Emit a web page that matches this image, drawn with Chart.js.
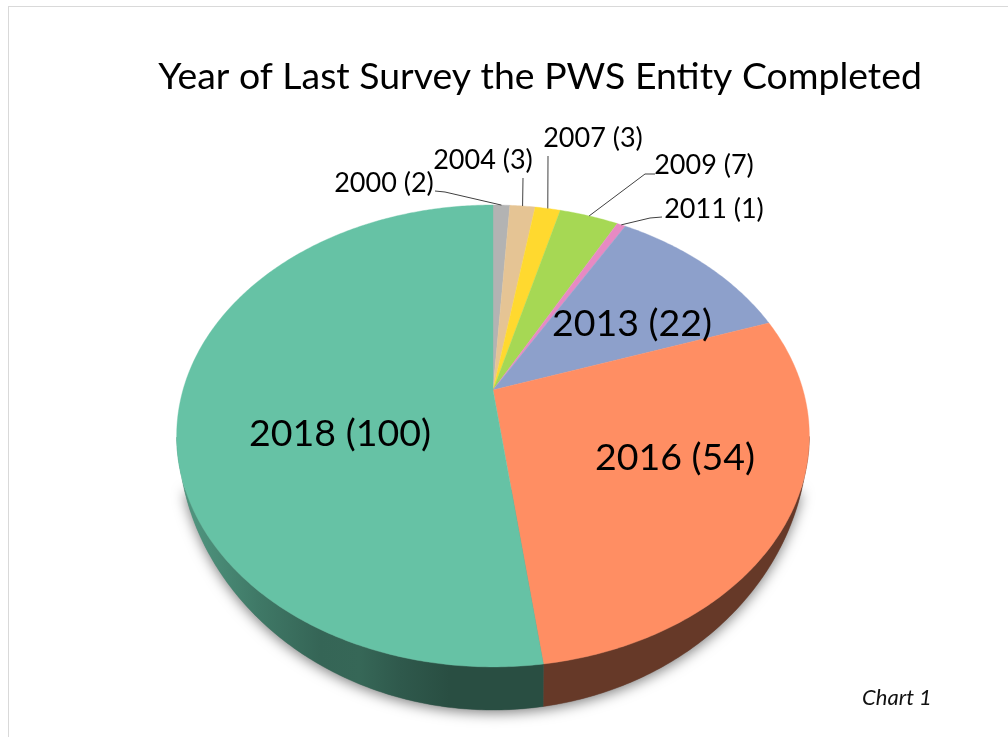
<!DOCTYPE html>
<html>
<head>
<meta charset="utf-8">
<style>
html,body{margin:0;padding:0;background:#fff;overflow:hidden}
#frame{position:absolute;left:8px;top:6px;right:0;bottom:-2px;border-left:1px solid #d9d9d9;border-top:1px solid #d9d9d9}
canvas{position:absolute;left:0;top:0}
</style>
<script src="https://cdn.jsdelivr.net/npm/chart.js@4"></script>
</head>
<body>
<div id="frame"></div>
<canvas id="c" width="1008" height="737"></canvas>
<script>
const categories = ['2000','2004','2007','2009','2011','2013','2016','2018'];
const counts = [2,3,3,7,1,22,54,100];
const sliceColors = ['#b3b3b3','#e5c494','#ffd92f','#a6d854','#e78ac3','#8da0cb','#ff8e63','#66c2a5'];
const titleText = 'Year of Last Survey the PWS Entity Completed';
const noteText = 'Chart 1';

// Label anchors: centre x, baseline y, font px; optional leader polyline start
const labelStyle = [
  {x:384,y:192,size:27,leader:[[435,191],[445,192]]},
  {x:483,y:169,size:27,leader:[[523,178]]},
  {x:593,y:147,size:27,leader:[[548,156]]},
  {x:704,y:174,size:27,leader:[[655,174],[645,174]]},
  {x:714,y:218,size:27,leader:[[662,217],[650,218]]},
  {x:632,y:336,size:37.5},
  {x:675,y:470,size:37.5},
  {x:340,y:446,size:37.5}
];

// Perspective tilt of the disc
const tilt = {cx:493, k:310, c:0.199, y0:390, a:144.2};
const baseRim = {cy:435, rx:315, ry:275, rimCut:436};
const wallShade = [[195,.76],[260,.62],[320,.52],[360,.53],[400,.46],[450,.40],[1008,.40]];

function project(u,v){
  const d = 1 + tilt.c*v;
  return {x: tilt.cx + tilt.k*u/d, y: (tilt.y0 - tilt.a*v)/d};
}
function rimPoint(angle){
  return project(Math.cos(angle), -Math.sin(angle));
}
function baseY(x){
  const t = (x-tilt.cx)/baseRim.rx;
  return baseRim.cy + baseRim.ry*Math.sqrt(Math.max(0,1-t*t));
}
function rgb(hex){
  const n = parseInt(hex.slice(1),16);
  return [(n>>16)&255,(n>>8)&255,n&255];
}
function sliceSamples(el){
  const n = Math.max(2,Math.ceil((el.endAngle-el.startAngle)/0.01));
  const pts=[];
  for(let i=0;i<=n;i++) pts.push(rimPoint(el.startAngle+(el.endAngle-el.startAngle)*i/n));
  return pts;
}

// Draw each arc element on the tilted disc, using the angles the library computed
Chart.ArcElement.prototype.draw = function(ctx){
  const pts = sliceSamples(this);
  const apex = project(0,0);
  ctx.save();
  ctx.beginPath();
  ctx.moveTo(apex.x,apex.y);
  pts.forEach(p=>ctx.lineTo(p.x,p.y));
  ctx.closePath();
  ctx.fillStyle = this.options.backgroundColor;
  ctx.strokeStyle = this.options.backgroundColor;
  ctx.lineWidth = 0.4;
  ctx.fill();
  ctx.stroke();
  ctx.restore();
};

const pie3d = {
  id:'pie3d',
  beforeDatasetsDraw(chart){
    const ctx = chart.ctx;
    const els = chart.getDatasetMeta(0).data;
    // soft shadow below the disc
    ctx.save();
    ctx.shadowColor = 'rgba(0,0,0,0.5)';
    ctx.shadowBlur = 13;
    ctx.shadowOffsetY = 3;
    ctx.fillStyle = '#777';
    ctx.beginPath();
    ctx.ellipse(tilt.cx,baseRim.cy,baseRim.rx,baseRim.ry,0,0.2,Math.PI-0.2);
    ctx.closePath();
    ctx.fill();
    ctx.restore();
    // side walls
    els.forEach((el,i)=>{
      const top = sliceSamples(el).filter(p=>p.y>=baseRim.rimCut);
      if(top.length<2) return;
      const base = rgb(sliceColors[i]);
      const g = ctx.createLinearGradient(0,0,1008,0);
      wallShade.forEach(([x,f])=>{
        g.addColorStop(x/1008,`rgb(${base.map(c=>Math.round(c*f)).join(',')})`);
      });
      ctx.beginPath();
      top.forEach((p,k)=>k?ctx.lineTo(p.x,p.y):ctx.moveTo(p.x,p.y));
      for(let k=top.length-1;k>=0;k--){
        const x = top[k].x + (tilt.cx-top[k].x)*0.006;
        ctx.lineTo(x,Math.max(baseY(x),top[k].y));
      }
      ctx.closePath();
      ctx.fillStyle = g;
      ctx.strokeStyle = g;
      ctx.lineWidth = 0.4;
      ctx.fill();
      ctx.stroke();
    });
  },
  afterDatasetsDraw(chart){
    const ctx = chart.ctx;
    const els = chart.getDatasetMeta(0).data;
    ctx.save();
    els.forEach((el,i)=>{
      const s = labelStyle[i];
      if(s.leader){
        const end = rimPoint((el.startAngle+el.endAngle)/2);
        ctx.beginPath();
        s.leader.forEach((p,k)=>k?ctx.lineTo(p[0],p[1]):ctx.moveTo(p[0],p[1]));
        ctx.lineTo(end.x,end.y);
        ctx.strokeStyle = '#404040';
        ctx.lineWidth = 1;
        ctx.stroke();
      }
      ctx.font = `${s.size}px Lato`;
      ctx.fillStyle = '#000';
      ctx.textAlign = 'center';
      ctx.textBaseline = 'alphabetic';
      ctx.fillText(`${categories[i]} (${counts[i]})`,s.x,s.y);
    });
    ctx.font = 'italic 22px Lato';
    ctx.textAlign = 'left';
    ctx.fillStyle = '#111';
    ctx.fillText(noteText,862,705);
    ctx.restore();
  }
};

new Chart(document.getElementById('c'),{
  type:'pie',
  data:{labels:categories,datasets:[{data:counts,backgroundColor:sliceColors,borderWidth:0}]},
  options:{
    responsive:false,
    animation:false,
    layout:{padding:{left:72,top:54}},
    plugins:{
      legend:{display:false},
      tooltip:{enabled:false},
      title:{display:true,text:titleText,color:'#000',padding:0,font:{family:'Lato',size:37.4,weight:'normal'}}
    }
  },
  plugins:[pie3d]
});
</script>
</body>
</html>
